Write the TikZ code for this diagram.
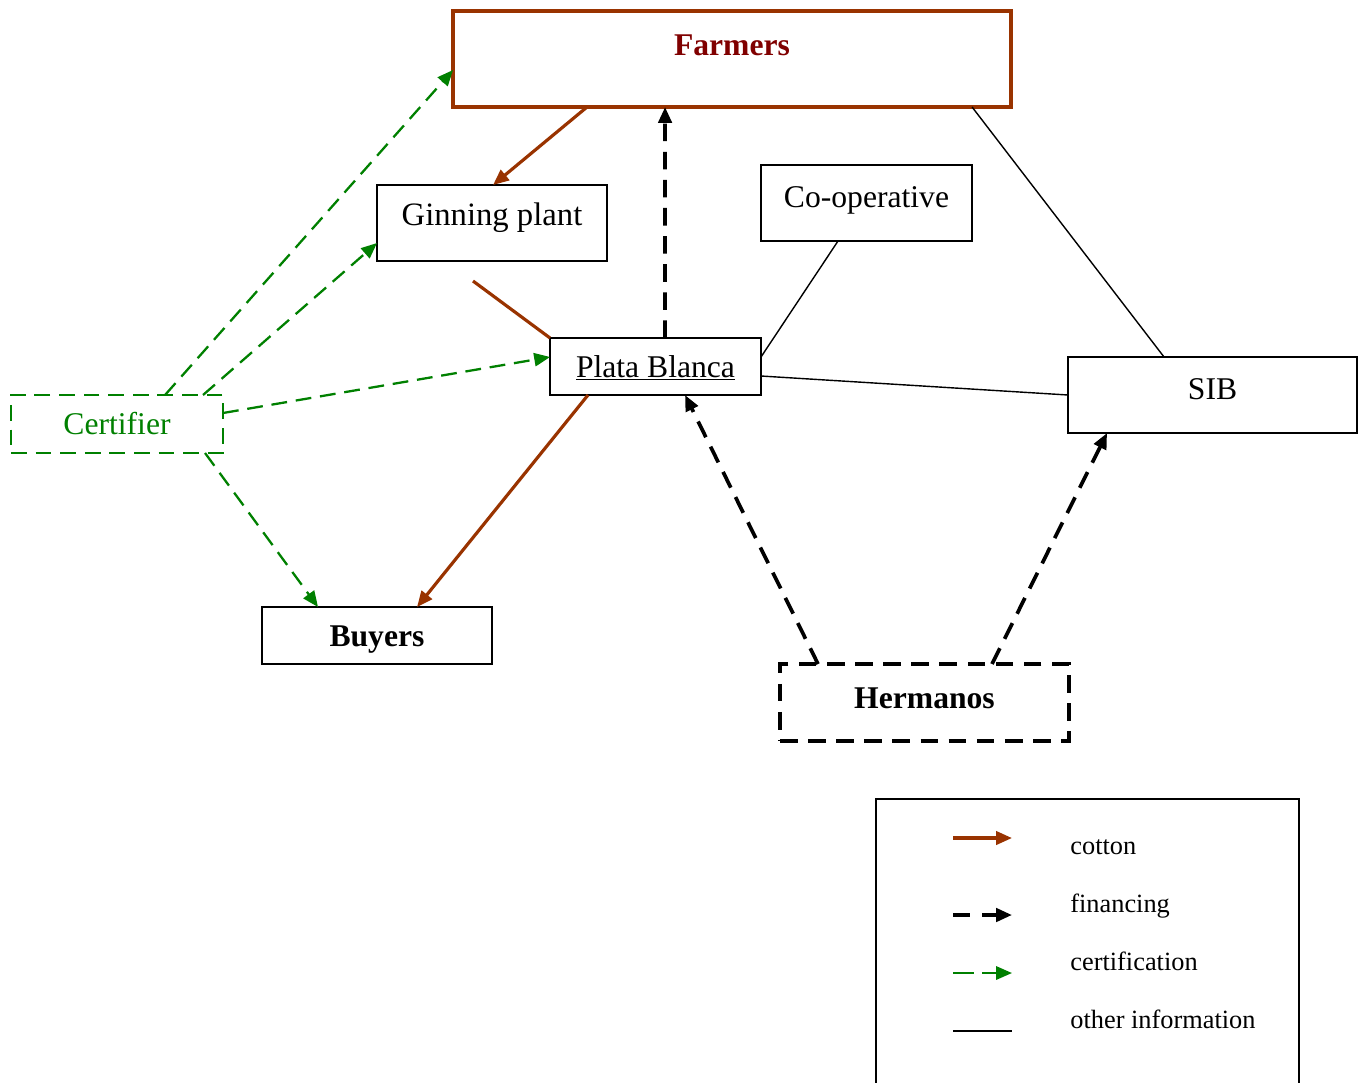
\documentclass[tikz,border=0pt]{standalone}
\usepackage{fontspec}
\setmainfont{Liberation Serif}
\usetikzlibrary{arrows.meta, calc}
\definecolor{cottonbrown}{RGB}{153,51,0}
\definecolor{farmred}{RGB}{128,0,0}
\definecolor{certgreen}{RGB}{0,128,0}

\begin{document}
\begin{tikzpicture}[x=0.02cm, y=-0.02cm,
    >={Triangle[length=9pt,width=7.5pt]},
    box/.style={draw, rectangle, line width=0.8pt, inner sep=0pt, outer sep=0pt,
      font=\fontsize{18}{21}\selectfont, text height=12pt, text depth=0pt},
    cottonflow/.style={->, draw=cottonbrown, line width=1.8pt},
    finflow/.style={->, line width=2.1pt, dash pattern=on 10pt off 6pt},
    certflow/.style={->, draw=certgreen, line width=1.3pt, dash pattern=on 9pt off 5pt},
    infoflow/.style={draw, line width=0.8pt},
    legtext/.style={anchor=base west, inner sep=0pt, font=\fontsize{15}{18}\selectfont}]
  \useasboundingbox (0,0) rectangle (1364,1082);
  \clip (0,0) rectangle (1364,1082);

  % actors
  \node[box, draw=cottonbrown, line width=2pt, minimum width=11.16cm, minimum height=1.92cm,
        text depth=16.5pt, text=farmred, font=\fontsize{18}{21}\selectfont\bfseries]
        (farmers) at (732,59) {Farmers};
  \node[box, minimum width=4.6cm, minimum height=1.52cm, text depth=8.8pt,
        font=\fontsize{18.6}{22}\selectfont] (ginning) at (492,223) {Ginning plant};
  \node[box, minimum width=4.22cm, minimum height=1.52cm, text depth=7.4pt]
        (coop) at (866.5,203) {Co-operative};
  \node[box, minimum width=4.22cm, minimum height=1.14cm]
        (plata) at (655.5,366.5) {\underline{Plata Blanca}};
  \node[box, minimum width=5.78cm, minimum height=1.52cm, text depth=7.4pt]
        (sib) at (1212.5,395) {SIB};
  \node[box, draw=certgreen, text=certgreen, line width=1.3pt, dash pattern=on 9pt off 5pt,
        minimum width=4.24cm, minimum height=1.16cm] (certifier) at (117,424) {Certifier};
  \node[box, minimum width=4.6cm, minimum height=1.14cm,
        font=\fontsize{18}{21}\selectfont\bfseries] (buyers) at (377,635.5) {Buyers};
  \node[box, line width=2.1pt, dash pattern=on 10pt off 6pt, minimum width=5.78cm,
        minimum height=1.54cm, text depth=5.7pt,
        font=\fontsize{18}{21}\selectfont\bfseries] (hermanos) at (924.5,702.5) {Hermanos};

  % cotton
  \coordinate (ginout) at (473,281);
  \draw[cottonflow] ($(farmers.south west)+(134,0)$) -- ($(ginning.north west)+(116,0)$);
  \draw[cottonflow, -] (ginout) -- (plata.north west);
  \draw[cottonflow] ($(plata.south west)+(38,0)$) -- ($(buyers.north west)+(155,0)$);

  % financing
  \draw[finflow] ($(plata.north west)+(115,0)$) -- ($(farmers.south west)+(212,0)$);
  \draw[finflow] ($(hermanos.north west)+(38,0)$) -- ($(plata.south west)+(135,0)$);
  \draw[finflow] ($(hermanos.north west)+(212,0)$) -- ($(sib.south west)+(39,0)$);

  % certification
  \draw[certflow] ($(certifier.north west)+(154,0)$) -- ($(farmers.north west)+(0,59)$);
  \draw[certflow] ($(certifier.north west)+(192,0)$) -- ($(ginning.north west)+(0,58)$);
  \draw[certflow] ($(certifier.north east)+(0,18)$) -- ($(plata.north west)+(0,19)$);
  \draw[certflow] ($(certifier.south west)+(194,0)$) -- ($(buyers.north west)+(56,0)$);

  % other information
  \draw[infoflow] ($(farmers.south west)+(519,0)$) -- ($(sib.north west)+(96,0)$);
  \draw[infoflow] ($(coop.south west)+(77,0)$) -- ($(plata.north east)+(0,19)$);
  \draw[infoflow] ($(plata.north east)+(0,38)$) -- (sib.west);

  % legend
  \node[draw, line width=0.9pt, minimum width=8.46cm, minimum height=6.42cm]
        (legend) at (1087.5,959.5) {};
  \coordinate (key1a) at (953,838);  \coordinate (key1b) at (1012,838);
  \coordinate (key2a) at (953,915);  \coordinate (key2b) at (1012,915);
  \coordinate (key3a) at (953,973);  \coordinate (key3b) at (1012,973);
  \coordinate (key4a) at (953,1031); \coordinate (key4b) at (1012,1031);
  \draw[cottonflow] (key1a) -- (key1b);
  \draw[finflow, dash pattern=on 9.5pt off 7pt] (key2a) -- (key2b);
  \draw[certflow, dash pattern=on 12pt off 4.5pt] (key3a) -- (key3b);
  \draw[infoflow] (key4a) -- (key4b);
  \node[legtext] (keytxt1) at (1070,854) {cotton};
  \node[legtext] (keytxt2) at (1070,912) {financing};
  \node[legtext] (keytxt3) at (1070,970) {certification};
  \node[legtext] (keytxt4) at (1070,1028) {other information};
\end{tikzpicture}
\end{document}
